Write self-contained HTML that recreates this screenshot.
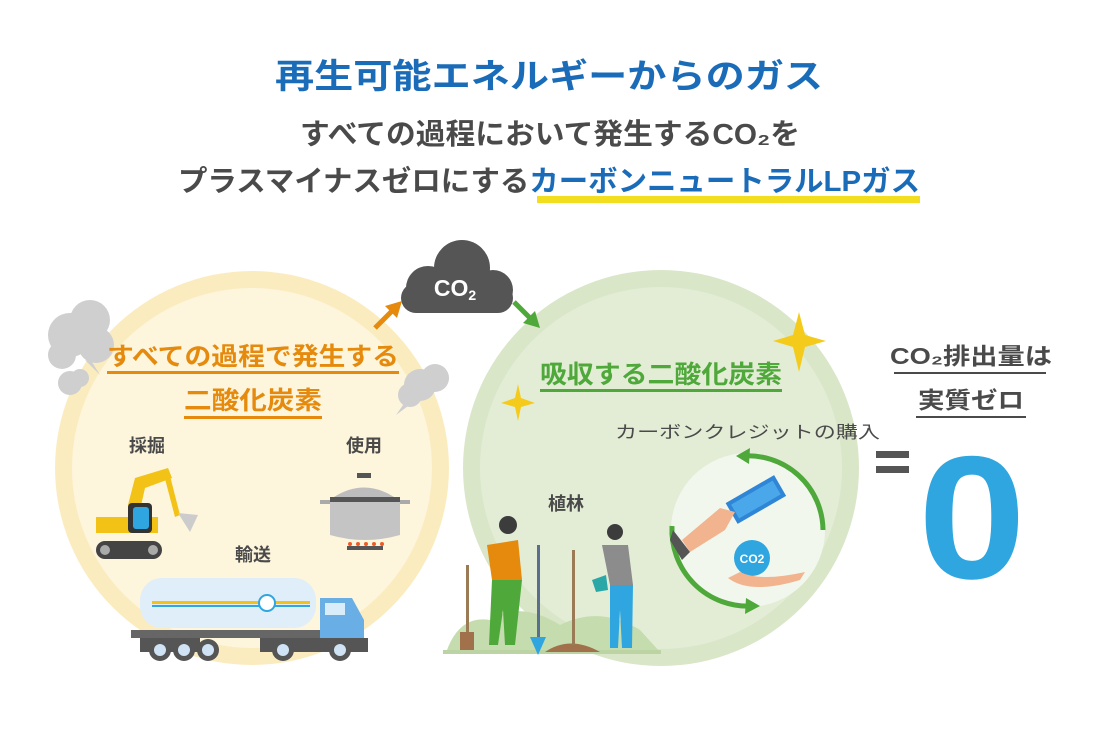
<!DOCTYPE html>
<html><head><meta charset="utf-8"><style>
html,body{margin:0;padding:0;background:#fff;width:1099px;height:756px;overflow:hidden}
svg{display:block}
text{font-family:"Liberation Sans","Noto Sans CJK JP",sans-serif;font-weight:bold}
</style></head><body>
<svg width="1099" height="756" viewBox="0 0 1099 756">
<text x="275" y="88" font-size="34" fill="#1b6cb8" textLength="548" lengthAdjust="spacingAndGlyphs">再生可能エネルギーからのガス</text>
<text x="300" y="144" font-size="29" fill="#4a4a4a" textLength="500" lengthAdjust="spacingAndGlyphs">すべての過程において発生するCO₂を</text>
<rect x="537" y="196" width="383" height="7" fill="#f3dd1f"/>
<text x="178" y="191" font-size="29" fill="#4a4a4a" textLength="742" lengthAdjust="spacingAndGlyphs">プラスマイナスゼロにする<tspan fill="#1b6cb8">カーボンニュートラルLPガス</tspan></text>

<circle cx="252" cy="468" r="197" fill="#fbecc0"/>
<circle cx="252" cy="468" r="180" fill="#fdf5dc"/>
<circle cx="661" cy="468" r="198" fill="#d9e6c8"/>
<circle cx="661" cy="468" r="181" fill="#e3edd6"/>

<g fill="#cfcfcf">
<circle cx="70" cy="335" r="22"/><circle cx="90" cy="320" r="20"/><circle cx="96" cy="345" r="18"/><circle cx="62" cy="355" r="14"/>
<circle cx="70" cy="383" r="12"/><circle cx="80" cy="378" r="9"/>
<circle cx="420" cy="385" r="16"/><circle cx="435" cy="378" r="14"/><circle cx="410" cy="395" r="12"/>
<path d="M85 360 L100 375 L92 362Z"/><path d="M408 398 L396 415 L416 400Z"/>
</g>

<g fill="#555">
<circle cx="462" cy="268" r="28"/><circle cx="428" cy="288" r="22"/><circle cx="493" cy="290" r="20"/>
<rect x="401" y="283" width="112" height="30" rx="15"/>
</g>
<text x="455" y="296" text-anchor="middle" font-size="23" fill="#fff">CO<tspan font-size="14" dy="4">2</tspan></text>
<line x1="375" y1="328" x2="393" y2="310" stroke="#e58a0d" stroke-width="5"/>
<path d="M402 301 L385 306 L397 318Z" fill="#e58a0d"/>
<line x1="514" y1="302" x2="530" y2="318" stroke="#4ea83a" stroke-width="5"/>
<path d="M540 328 L535 311 L523 323Z" fill="#4ea83a"/>

<text x="107" y="365" font-size="25" fill="#e58a0d" textLength="292" lengthAdjust="spacingAndGlyphs">すべての過程で発生する</text>
<rect x="107" y="371" width="292" height="3" fill="#e58a0d"/>
<text x="184" y="409" font-size="25" fill="#e58a0d" textLength="138" lengthAdjust="spacingAndGlyphs">二酸化炭素</text>
<rect x="184" y="416" width="138" height="3" fill="#e58a0d"/>
<text x="147" y="452" text-anchor="middle" font-size="18" fill="#4a4a4a">採掘</text>
<text x="364" y="452" text-anchor="middle" font-size="18" fill="#4a4a4a">使用</text>
<text x="253" y="561" text-anchor="middle" font-size="18" fill="#4a4a4a">輸送</text>

<path d="M128 505 L135 478 L168 468 L172 478 L145 488 L140 510Z" fill="#f2c216"/>
<path d="M168 468 L180 515 L175 517 L164 475Z" fill="#f2c216"/>
<path d="M178 513 L198 515 L190 532Z" fill="#ccc"/>
<rect x="96" y="517" width="62" height="16" fill="#f2c216"/>
<rect x="128" y="503" width="24" height="30" rx="4" fill="#333"/>
<rect x="133" y="507" width="16" height="22" rx="3" fill="#2fa6e0"/>
<rect x="96" y="541" width="66" height="18" rx="9" fill="#444"/>
<circle cx="105" cy="550" r="5" fill="#aaa"/><circle cx="153" cy="550" r="5" fill="#aaa"/>

<rect x="357" y="473" width="14" height="5" fill="#555"/>
<path d="M334 497 Q364 478 394 497Z" fill="#bdbdbd"/>
<rect x="330" y="497" width="70" height="5" fill="#555"/>
<path d="M330 502 L400 502 L400 535 Q365 545 330 535Z" fill="#c4c4c4"/>
<rect x="320" y="500" width="10" height="4" fill="#aaa"/><rect x="400" y="500" width="10" height="4" fill="#aaa"/>
<rect x="347" y="546" width="36" height="4" fill="#555"/>
<g fill="#f05a28"><circle cx="350" cy="544" r="2"/><circle cx="358" cy="544" r="2"/><circle cx="366" cy="544" r="2"/><circle cx="374" cy="544" r="2"/><circle cx="382" cy="544" r="2"/></g>

<rect x="140" y="578" width="176" height="50" rx="22" fill="#dfeef9"/>
<rect x="152" y="601" width="158" height="3" fill="#f2c216"/>
<rect x="152" y="605" width="158" height="2" fill="#2fa6e0"/>
<circle cx="267" cy="603" r="8" fill="#fff" stroke="#2fa6e0" stroke-width="2"/>
<rect x="131" y="630" width="190" height="8" fill="#666"/>
<path d="M320 598 L352 598 L364 620 L364 645 L320 645Z" fill="#6aaee6"/>
<rect x="325" y="603" width="20" height="12" fill="#d8ecf9"/>
<rect x="140" y="638" width="60" height="14" fill="#555"/>
<rect x="260" y="638" width="108" height="14" fill="#555"/>
<g fill="#555"><circle cx="160" cy="650" r="11"/><circle cx="184" cy="650" r="11"/><circle cx="208" cy="650" r="11"/><circle cx="283" cy="650" r="11"/><circle cx="340" cy="650" r="11"/></g>
<g fill="#cfe3f4"><circle cx="160" cy="650" r="6"/><circle cx="184" cy="650" r="6"/><circle cx="208" cy="650" r="6"/><circle cx="283" cy="650" r="6"/><circle cx="340" cy="650" r="6"/></g>

<text x="540" y="383" font-size="25" fill="#4ea83a" textLength="242" lengthAdjust="spacingAndGlyphs">吸収する二酸化炭素</text>
<rect x="540" y="389" width="242" height="3" fill="#4ea83a"/>
<text x="615" y="438" font-size="17" fill="#4a4a4a" style="font-weight:normal" textLength="265" lengthAdjust="spacingAndGlyphs">カーボンクレジットの購入</text>
<text x="566" y="510" text-anchor="middle" font-size="18" fill="#4a4a4a">植林</text>

<path d="M799 312 L805 335 L826 341 L805 347 L799 372 L793 347 L773 341 L793 335Z" fill="#f4cb1a"/>
<path d="M518 384 L521 398 L535 403 L521 407 L518 421 L515 407 L501 403 L515 398Z" fill="#f4cb1a"/>

<circle cx="748" cy="530" r="77" fill="#f2f7ee"/>
<path d="M742 456 A75 75 0 0 1 823 530" fill="none" stroke="#4ea83a" stroke-width="5"/>
<path d="M672 526 A76 76 0 0 0 752 606" fill="none" stroke="#4ea83a" stroke-width="5"/>
<path d="M736 456 L750 448 L749 464Z" fill="#4ea83a"/>
<path d="M760 606 L745 614 L746 598Z" fill="#4ea83a"/>
<g transform="rotate(-30 755 500)"><rect x="728" y="488" width="56" height="24" fill="#2f86d6"/><rect x="732" y="492" width="48" height="16" fill="#4aa8ea"/></g>
<path d="M682 540 L720 508 L735 512 L725 530 L690 552Z" fill="#f1b48e"/>
<path d="M673 530 L690 552 L682 560 L670 540Z" fill="#555"/>
<circle cx="752" cy="558" r="18" fill="#2fa6e0"/>
<text x="752" y="563" text-anchor="middle" font-size="12" fill="#fff">CO2</text>
<path d="M728 578 Q750 595 800 580 L805 572 Q760 582 740 572Z" fill="#f1b48e"/>

<path d="M447 650 Q460 615 490 620 Q520 600 560 625 Q600 605 640 630 L660 652Z" fill="#c5dcae"/>
<rect x="443" y="650" width="218" height="4" fill="#bcd3a4"/>
<path d="M545 652 Q570 635 600 652Z" fill="#a0714a"/>
<rect x="572" y="550" width="3" height="95" fill="#9b7b55"/>
<rect x="466" y="565" width="3" height="75" fill="#9b7b55"/>
<rect x="460" y="632" width="14" height="18" fill="#a0714a"/>
<circle cx="508" cy="525" r="9" fill="#3c3c3c"/>
<path d="M487 545 L518 540 L522 580 L492 580Z" fill="#e58a0d"/>
<path d="M492 580 L522 580 L515 645 L505 645 L503 610 L498 645 L489 645Z" fill="#4ea83a"/>
<rect x="537" y="545" width="3" height="92" fill="#5b6e8e"/>
<path d="M530 637 L546 637 L538 655Z" fill="#2fa6e0"/>
<circle cx="615" cy="532" r="8" fill="#3c3c3c"/>
<path d="M602 545 L628 545 L633 585 L610 585Z" fill="#8c8c8c"/>
<path d="M610 585 L633 585 L632 648 L622 648 L620 610 L618 648 L610 648Z" fill="#2fa6e0"/>
<path d="M592 580 L606 575 L608 590 L596 592Z" fill="#2aa8a8"/>

<text x="890" y="364" font-size="23" fill="#4a4a4a" textLength="162" lengthAdjust="spacingAndGlyphs">CO₂排出量は</text>
<rect x="894" y="372" width="152" height="2" fill="#4a4a4a"/>
<text x="918" y="408" font-size="23" fill="#4a4a4a" textLength="106" lengthAdjust="spacingAndGlyphs">実質ゼロ</text>
<rect x="916" y="416" width="110" height="2" fill="#4a4a4a"/>
<rect x="876" y="451" width="33" height="7" fill="#555"/>
<rect x="876" y="466" width="33" height="7" fill="#555"/>
<text x="918" y="578" font-size="175" fill="#2fa6e0" textLength="108" lengthAdjust="spacingAndGlyphs">0</text>
</svg>
</body></html>
